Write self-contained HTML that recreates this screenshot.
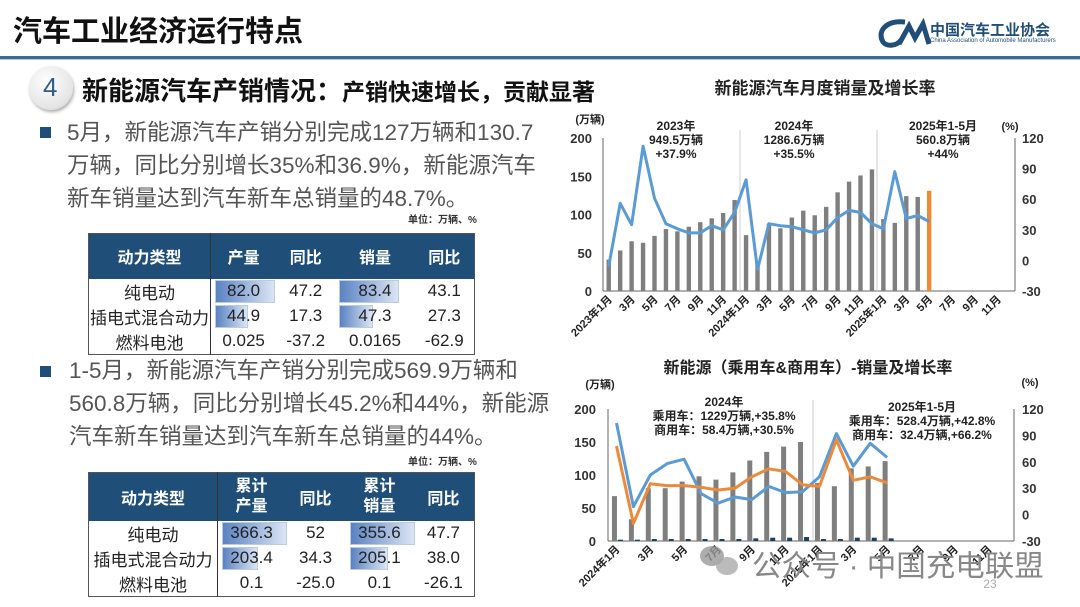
<!DOCTYPE html>
<html><head><meta charset="utf-8"><style>
*{margin:0;padding:0;box-sizing:border-box}
body{width:1080px;height:607px;overflow:hidden;background:#fff;font-family:"Liberation Sans","Noto Sans CJK SC",sans-serif;position:relative}
.abs{position:absolute}
.t{position:absolute;white-space:nowrap}
table{position:absolute;border-collapse:collapse;font-family:"Liberation Sans","Noto Sans CJK SC",sans-serif}
td{text-align:center;color:#222;font-size:17px;padding:0;position:relative}
th{background:#1f4e79;color:#fff;font-size:16px;font-weight:bold}
.db{position:absolute;left:4px;top:1px;bottom:1px;background:linear-gradient(90deg,#5a82c2,#dbe5f4);border:1px solid #bcd}
.v{position:relative}
</style></head><body>
<div class="t" style="left:13px;top:8px;font-size:29px;font-weight:bold;color:#111">汽车工业经济运行特点</div>
<div class="abs" style="left:0;top:56px;width:1080px;height:3px;background:#3d6b98"></div>
<div class="abs" style="left:0;top:59px;width:1080px;height:1px;background:#b8c8d8"></div>
<svg class="abs" style="left:875px;top:18px" width="60" height="30"><path d="M30 4 C10 2 2 14 8 24 C12 29 22 28 26 22" stroke="#1f4e79" stroke-width="5" fill="none"/><path d="M24 26 L34 8 L40 20 L48 6 L54 26" stroke="#1f4e79" stroke-width="5" fill="none"/></svg>
<div class="t" style="left:930px;top:19px;font-size:15px;font-weight:bold;color:#1f4e79">中国汽车工业协会</div>
<div class="t" style="left:930px;top:38px;font-size:6px;color:#1f4e79">China Association of Automobile Manufacturers</div>
<div class="abs" style="left:29px;top:66px;width:44px;height:44px;border-radius:50%;background:radial-gradient(circle at 40% 35%,#fff,#e4e4e4 70%,#bbb);box-shadow:1px 2px 3px #aaa"></div>
<div class="t" style="left:43px;top:72px;font-size:26px;color:#2f5d8a">4</div>
<div class="t" style="left:82px;top:71px;font-size:26px;font-weight:bold;color:#111">新能源汽车产销情况：<span style="font-size:23px">产销快速增长，贡献显著</span></div>

<div class="abs" style="left:40px;top:127px;width:11px;height:11px;background:#1f4e79"></div>
<div class="t" style="left:67px;top:116px;font-size:22.5px;line-height:33px;color:#555">5月，新能源汽车产销分别完成127万辆和130.7<br>万辆，同比分别增长35%和36.9%，新能源汽车<br>新车销量达到汽车新车总销量的48.7%。</div>
<div class="t" style="left:408px;top:211px;font-size:10px;font-weight:bold;color:#333">单位：万辆、%</div>
<table style="left:88px;top:233px;width:387px;border:1px solid #555">
<tr style="height:45px"><th style="width:122px;border-right:1px solid #333">动力类型</th><th>产量</th><th>同比</th><th>销量</th><th>同比</th></tr>
<tr style="height:22px"><td style="border-right:1px solid #333">纯电动</td><td><div class="db" style="width:60px"></div><span class="v">82.0</span></td><td>47.2</td><td><div class="db" style="width:60px"></div><span class="v">83.4</span></td><td>43.1</td></tr>
<tr style="height:22px"><td style="border-right:1px solid #333">插电式混合动力</td><td><div class="db" style="width:33px"></div><span class="v">44.9</span></td><td>17.3</td><td><div class="db" style="width:34px"></div><span class="v">47.3</span></td><td>27.3</td></tr>
<tr style="height:22px"><td style="border-right:1px solid #333">燃料电池</td><td>0.025</td><td>-37.2</td><td>0.0165</td><td>-62.9</td></tr>
</table>

<div class="abs" style="left:40px;top:366px;width:11px;height:11px;background:#1f4e79"></div>
<div class="t" style="left:69px;top:354px;font-size:22.5px;line-height:33px;color:#555">1-5月，新能源汽车产销分别完成569.9万辆和<br>560.8万辆，同比分别增长45.2%和44%，新能源<br>汽车新车销量达到汽车新车总销量的44%。</div>
<div class="t" style="left:408px;top:453px;font-size:10px;font-weight:bold;color:#333">单位：万辆、%</div>
<table style="left:88px;top:472px;width:387px;border:1px solid #555">
<tr style="height:48px"><th style="width:129px;border-right:1px solid #333">动力类型</th><th style="line-height:20px">累计<br>产量</th><th>同比</th><th style="line-height:20px">累计<br>销量</th><th>同比</th></tr>
<tr style="height:22px"><td style="border-right:1px solid #333">纯电动</td><td><div class="db" style="width:65px"></div><span class="v">366.3</span></td><td>52</td><td><div class="db" style="width:65px"></div><span class="v">355.6</span></td><td>47.7</td></tr>
<tr style="height:22px"><td style="border-right:1px solid #333">插电式混合动力</td><td><div class="db" style="width:36px"></div><span class="v">203.4</span></td><td>34.3</td><td><div class="db" style="width:38px"></div><span class="v">205.1</span></td><td>38.0</td></tr>
<tr style="height:22px"><td style="border-right:1px solid #333">燃料电池</td><td>0.1</td><td>-25.0</td><td>0.1</td><td>-26.1</td></tr>
</table>

<svg id="c" class="abs" style="left:0;top:0" width="1080" height="607" font-family="Liberation Sans, Noto Sans CJK SC, sans-serif"></svg>
<script>
var s=document.getElementById('c'),h='';
function T(x,y,t,o){o=o||{};h+='<text x="'+x+'" y="'+y+'" font-size="'+(o.fs||12)+'" text-anchor="'+(o.a||'middle')+'" fill="'+(o.c||'#222')+'"'+(o.b?' font-weight="bold"':'')+(o.r?' transform="rotate(-45 '+x+' '+y+')"':'')+'>'+t+'</text>';}
function L(x1,y1,x2,y2,c,w){h+='<line x1="'+x1+'" y1="'+y1+'" x2="'+x2+'" y2="'+y2+'" stroke="'+c+'" stroke-width="'+(w||1)+'"/>';}
function R(x,y,w,hh,c){h+='<rect x="'+x+'" y="'+y+'" width="'+w+'" height="'+hh+'" fill="'+c+'"/>';}
function P(pts,c,w){h+='<polyline points="'+pts.join(' ')+'" fill="none" stroke="'+c+'" stroke-width="'+w+'" stroke-linejoin="round"/>';}
T(825,94,'新能源汽车月度销量及增长率',{fs:17,b:1});
var x0=603,x1=1015,yt=138,yb=291,n=36,sp=(x1-x0)/n;
function yl(v){return yb-(v/200)*(yb-yt);} function yr(v){return yb-((v+30)/150)*(yb-yt);}
L(x0,yt,x0,yb,'#666');L(x1,yt,x1,yb,'#666');L(x0,yb,x1,yb,'#666');
L(740,130,740,yb,'#ccc');L(877,130,877,yb,'#ccc');
[0,50,100,150,200].forEach(function(v){T(592,yl(v)+5,v,{fs:13,a:'end',b:1,c:'#333'});});
[-30,0,30,60,90,120].forEach(function(v){T(1022,yr(v)+5,v,{fs:13,a:'start',b:1,c:'#333'});});
T(590,123,'(万辆)',{fs:11,b:1});T(1010,130,'(%)',{fs:11,b:1});
var b1=[41,53,65,63,72,81,78,84,90,95,102,119,73,39,88,82,96,105,99,110,129,143,151,159,94,89,124,123,131];
b1.forEach(function(v,i){R(x0+(i+.5)*sp-2.2,yl(v),4.4,yb-yl(v),i==28?'#ed8a3a':'#7f7f7f');});
var g1=[-6,56,35,112,61,36,31,27,27,34,30,47,79,-9,36,34,33,30,27,30,42,49,47,36,31,87,41,44,38];
P(g1.map(function(v,i){return (x0+(i+.5)*sp).toFixed(1)+','+yr(v).toFixed(1);}),'#5b9bd5',3);
T(676,130,'2023年',{fs:12,b:1});T(676,144,'949.5万辆',{fs:12,b:1});T(676,158,'+37.9%',{fs:12,b:1});
T(794,130,'2024年',{fs:12,b:1});T(794,144,'1286.6万辆',{fs:12,b:1});T(794,158,'+35.5%',{fs:12,b:1});
T(943,130,'2025年1-5月',{fs:12,b:1});T(943,144,'560.8万辆',{fs:12,b:1});T(943,158,'+44%',{fs:12,b:1});
var lab=['年1月','3月','5月','7月','9月','11月'];
for(var i=0;i<36;i+=2){var m=i%12,yr_=2023+Math.floor(i/12);var t=(m==0?yr_+'年1月':lab[m/2]);T(x0+(i+.5)*sp+4,300,t,{fs:11,a:'end',b:1,r:1});}
T(808,373,'新能源（乘用车&amp;商用车）-销量及增长率',{fs:16,b:1});
var X0=608,X1=1014,Yt=409,Yb=541,sp2=(X1-X0)/24;
function yl2(v){return Yb-(v/200)*(Yb-Yt);} function yr2(v){return Yb-((v+30)/150)*(Yb-Yt);}
L(X0,Yt,X0,Yb,'#666');L(X1,Yt,X1,Yb,'#666');L(X0,Yb,X1,Yb,'#666');L(813,400,813,Yb,'#ccc');
[0,50,100,150,200].forEach(function(v){T(596,yl2(v)+5,v,{fs:13,a:'end',b:1,c:'#333'});});
[-30,0,30,60,90,120].forEach(function(v){T(1022,yr2(v)+5,v,{fs:13,a:'start',b:1,c:'#333'});});
T(600,388,'(万辆)',{fs:11,b:1});T(1030,386,'(%)',{fs:11,b:1});
var pb=[68,33,80,80,90,98,93,104,122,135,143,150,88,83,110,113,121],cb=[2,2,3,3,3,3,3,3,4,5,5,6,3,3,5,5,4];
pb.forEach(function(v,i){var cx=X0+(i+.5)*sp2;R(cx-4.5,yl2(v),5,Yb-yl2(v),'#7f7f7f');R(cx+1.5,yl2(cb[i]),5,Yb-yl2(cb[i]),'#1f3f5f');});
var bl=[104,9,45,58,63,24,13,20,17,32,25,26,43,92,55,81,65],ol=[78,-10,35,33,33,31,28,30,43,52,49,34,32,85,39,43,36];
P(bl.map(function(v,i){return (X0+(i+.5)*sp2).toFixed(1)+','+yr2(v).toFixed(1);}),'#5b9bd5',3);
P(ol.map(function(v,i){return (X0+(i+.5)*sp2).toFixed(1)+','+yr2(v).toFixed(1);}),'#ed8a3a',3);
T(724,406,'2024年',{fs:12,b:1});T(724,420,'乘用车：1229万辆,+35.8%',{fs:12,b:1});T(724,434,'商用车：58.4万辆,+30.5%',{fs:12,b:1});
T(922,411,'2025年1-5月',{fs:12,b:1});T(922,425,'乘用车：528.4万辆,+42.8%',{fs:12,b:1});T(922,439,'商用车：32.4万辆,+66.2%',{fs:12,b:1});
for(var i=0;i<24;i+=2){var m=i%12;var t=(m==0?(2024+i/12)+'年1月':lab[m/2]);T(X0+(i+.5)*sp2+4,550,t,{fs:11,a:'end',b:1,r:1});}
h+='<ellipse cx="712" cy="556" rx="12" ry="10" fill="#999" opacity=".8"/><ellipse cx="727" cy="566" rx="11" ry="9" fill="#aaa" opacity=".8"/>';
T(752,576,'公众号 · 中国充电联盟',{fs:29.5,a:'start',c:'#888'});
T(990,588,'23',{fs:12,c:'#aaa'});
s.innerHTML=h;
</script>
</body></html>
